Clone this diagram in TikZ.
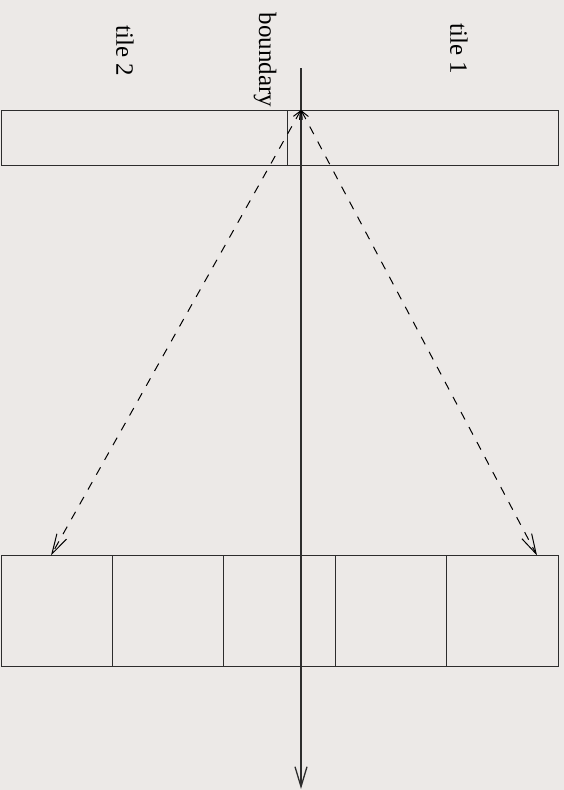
\documentclass[tikz,border=0pt]{standalone}
\usepackage{fontspec}
\setmainfont{Liberation Serif}
\usetikzlibrary{arrows.meta,positioning}
\definecolor{tlbg}{RGB}{236,233,231}
\definecolor{tledge}{RGB}{45,45,45}
\tikzset{
  cell/.style={
    draw=tledge, line width=0.9pt, inner sep=0pt, outer sep=0pt,
    minimum width=111.4pt, minimum height=111pt
  },
  strip/.style={
    draw=tledge, line width=0.9pt, inner sep=0pt, outer sep=0pt,
    minimum height=55pt
  },
  lbl/.style={font=\fontsize{25}{30}\selectfont, rotate=-90, inner sep=0pt},
  axis/.style={-{Straight Barb[length=20pt,width=12pt]}, draw=tledge, line width=1.3pt},
  map/.style={{Straight Barb[length=8pt,width=7pt]}-{Straight Barb[length=20pt,width=11pt]},
    draw=black, line width=1pt, dash pattern=on 8.5pt off 8.5pt}
}

\begin{document}
\begin{tikzpicture}[x=1pt,y=-1pt]
  \fill[tlbg] (0,0) rectangle (564,790);
  \useasboundingbox (0,0) rectangle (564,790);
  % tiles in the source strip
  \node[strip, minimum width=286pt] (src2) at (144,137.5) {};
  \node[strip, minimum width=271pt, right=0pt of src2] (src1) {};
  % target row of cells
  \node[cell] (c0) at (56.7,611) {};
  \foreach \i [remember=\i as \j (initially 0)] in {1,...,4}
    \node[cell, right=0pt of c\j] (c\i) {};
  % labels
  \node[lbl] (t2) at (125,51) {tile 2};
  \node[lbl] (t1) at (459,49) {tile 1};
  \node[lbl] (bd) at (265,60) {boundary};
  % boundary axis
  \coordinate (axtop) at (301,68);
  \coordinate (axbot) at (301,789);
  \draw[axis] (axtop) -- (axbot);
  % mapping of the boundary point
  \coordinate (apex) at (301,110);
  \coordinate (lft) at (51,555.5);
  \coordinate (rgt) at (537,555.5);
  \draw[map] (apex) -- (lft);
  \draw[map] (apex) -- (rgt);
\end{tikzpicture}
\end{document}
